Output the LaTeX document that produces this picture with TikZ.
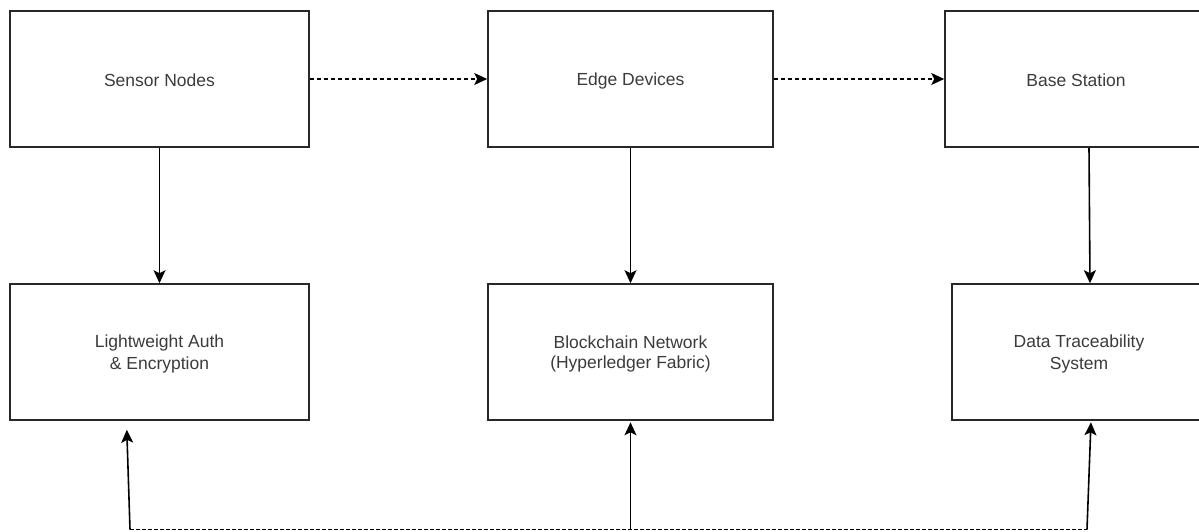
\documentclass[tikz,border=0pt]{standalone}
\usepackage{fontspec}
\setmainfont{Liberation Sans}
\usetikzlibrary{arrows.meta}
\definecolor{boxline}{RGB}{40,40,40}
\definecolor{labeltext}{RGB}{60,60,60}
% fixed line strut so every label sits at the same height
\newcommand{\lblstrut}{\rule[-1.5pt]{0pt}{18.5pt}}
\begin{document}
\begin{tikzpicture}[x=1pt,y=-1pt,
  block/.style={draw=boxline,line width=1.6pt,fill=white,rectangle,inner sep=0pt,
    align=center,text=labeltext,font=\fontsize{17.5}{20}\selectfont},
  flow/.style={draw=black,line width=1.6pt,-{Stealth[length=13pt,width=12pt,inset=3pt]}},
  dashflow/.style={flow,dash pattern=on 4pt off 3pt},
  busline/.style={draw=black,line width=1.6pt,dash pattern=on 3.5pt off 2.5pt}]
\useasboundingbox (0,0) rectangle (1199,531);

% top row
\node[block,minimum width=299pt,minimum height=136pt] (sensor) at (159.5,79) {Sensor Nodes\lblstrut};
\node[block,minimum width=285pt,minimum height=136pt] (edge) at (630.5,79) {Edge Devices\lblstrut};
\node[block,minimum width=262pt,minimum height=136pt] (base) at (1076,79) {Base Station\lblstrut};

% bottom row
\node[block,minimum width=299pt,minimum height=136pt] (auth) at (159.5,352) {Lightweight Auth\lblstrut\\\& Encryption\lblstrut};
\node[block,minimum width=285pt,minimum height=136pt] (chain) at (630.5,352) {Blockchain Network\lblstrut\\(Hyperledger Fabric)\lblstrut};
\node[block,minimum width=254pt,minimum height=136pt] (trace) at (1079,352) {Data Traceability\lblstrut\\System\lblstrut};

% data flow along the top row
\draw[dashflow] (sensor.east) -- (edge.west);
\draw[dashflow] (edge.east) -- (base.west);

% vertical links
\draw[flow] (sensor.south) -- (auth.north);
\draw[flow] (edge.south) -- (chain.north);
\draw[flow] ([xshift=13pt]base.south) -- ([xshift=11pt]trace.north);

% shared feedback bus along the bottom
\coordinate (busL) at (130,529.5);
\coordinate (busM) at (630.5,529.5);
\coordinate (busR) at (1087,529.5);
\draw[busline] (busL) -- (busR);
\draw[flow,shorten >=9pt] (busL) -- ([xshift=-33pt]auth.south);
\draw[flow,shorten >=1.5pt] (busM) -- (chain.south);
\draw[flow,shorten >=1.5pt] (busR) -- ([xshift=12pt]trace.south);
\end{tikzpicture}
\end{document}
